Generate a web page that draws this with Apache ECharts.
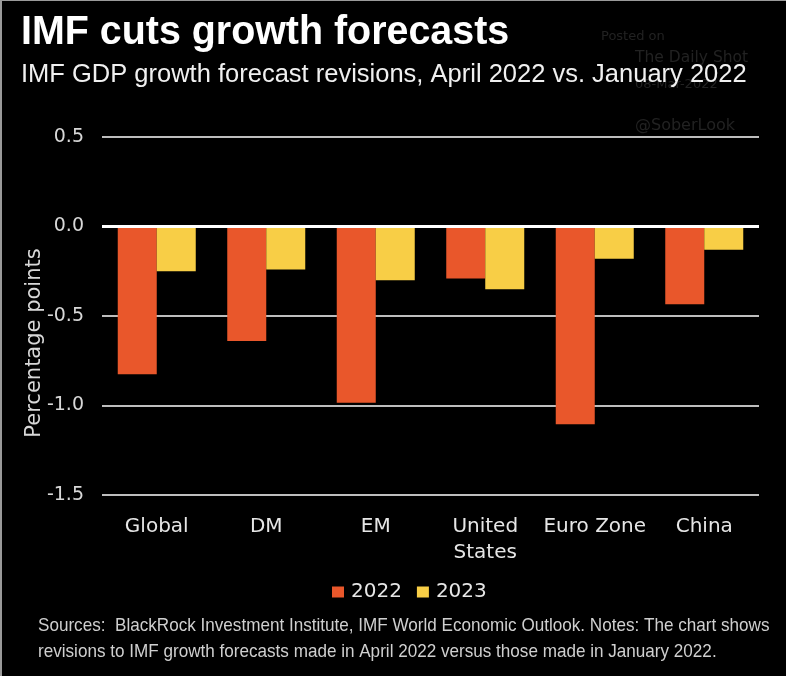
<!DOCTYPE html>
<html>
<head>
<meta charset="utf-8">
<script src="https://cdn.jsdelivr.net/npm/echarts@6/dist/echarts.min.js"></script>
<style>
html,body{margin:0;padding:0;background:#000;}
#c{width:786px;height:676px;}
</style>
</head>
<body>
<div id="c"></div>
<script>
const categories = ['Global', 'DM', 'EM', 'United\nStates', 'Euro Zone', 'China'];
const values2022 = [-0.825, -0.64, -0.985, -0.29, -1.105, -0.435];
const values2023 = [-0.25, -0.24, -0.30, -0.35, -0.18, -0.13];
const seriesNames = ['2022', '2023'];
const yTicks = { min: -1.5, max: 0.5, interval: 0.5 };

const chart = echarts.init(document.getElementById('c'), null, {renderer: 'canvas'});
const txt = (x, y, text, font, fill, align, extra) => Object.assign({
  type: 'text', x: x, y: y, silent: true,
  style: { text: text, font: font, fill: fill, align: align || 'left', verticalAlign: 'middle', textAlign: align || 'left', textVerticalAlign: 'middle' }
}, extra || {});

chart.setOption({
  backgroundColor: '#000',
  animation: false,
  grid: { left: 102, right: 27, top: 137, bottom: 181 },
  legend: {
    data: seriesNames,
    left: 327, top: 577,
    itemWidth: 12, itemHeight: 11, itemGap: 15,
    icon: 'rect',
    textStyle: { color: '#e6e6e6', fontSize: 20, fontFamily: 'DejaVu Sans', padding: [0, 0, 0, 2] }
  },
  xAxis: {
    type: 'category',
    data: categories,
    axisLine: { show: false, onZero: false },
    axisTick: { show: false },
    axisLabel: { interval: 0, color: '#e6e6e6', fontSize: 20, fontFamily: 'DejaVu Sans', margin: 19, lineHeight: 26, verticalAlign: 'top' }
  },
  yAxis: {
    type: 'value',
    min: yTicks.min, max: yTicks.max, interval: yTicks.interval,
    axisLine: { show: false },
    axisTick: { show: false },
    axisLabel: { color: '#d8d8d8', fontSize: 19, fontFamily: 'DejaVu Sans', margin: 18,
      formatter: v => v.toFixed(1) },
    splitLine: { lineStyle: { color: '#bdbdbd', width: 2 } }
  },
  series: [
    {
      name: seriesNames[0], type: 'bar', data: values2022,
      barWidth: 39, barGap: '0%',
      itemStyle: { color: '#E9572B' },
      markLine: { silent: true, symbol: 'none', label: { show: false },
        lineStyle: { color: '#ffffff', width: 3, type: 'solid' },
        data: [{ yAxis: 0 }] }
    },
    {
      name: seriesNames[1], type: 'bar', data: values2023,
      barWidth: 39,
      itemStyle: { color: '#F8CE46' }
    }
  ],
  graphic: [
    txt(601, 37, 'Posted on', '13px "DejaVu Sans", sans-serif', '#222222'),
    txt(635, 58, 'The Daily Shot', '15.5px "DejaVu Sans", sans-serif', '#222222'),
    txt(635, 85, '08-Mar-2022', '13px "DejaVu Sans", sans-serif', '#222222'),
    txt(635, 126, '@SoberLook', '16px "DejaVu Sans", sans-serif', '#222222'),
    txt(21, 33, 'IMF cuts growth forecasts', 'bold 40px "Liberation Sans", Arial, sans-serif', '#ffffff', 'left', { scaleX: 0.985 }),
    txt(21, 75, 'IMF GDP growth forecast revisions, April 2022 vs. January 2022', '25.5px "Liberation Sans", Arial, sans-serif', '#f0f0f0'),
    txt(35, 343, 'Percentage points', '21px "DejaVu Sans", sans-serif', '#d8d8d8', 'center', { rotation: Math.PI / 2 }),
    txt(38, 626, 'Sources:  BlackRock Investment Institute, IMF World Economic Outlook. Notes: The chart shows', '19px "Liberation Sans", Arial, sans-serif', '#cfcfcf', 'left', { scaleX: 0.9 }),
    txt(38, 652, 'revisions to IMF growth forecasts made in April 2022 versus those made in January 2022.', '19px "Liberation Sans", Arial, sans-serif', '#cfcfcf', 'left', { scaleX: 0.9 }),
    { type: 'rect', shape: { x: 0, y: 0, width: 2, height: 676 }, style: { fill: '#9a9a9a' }, silent: true },
    { type: 'rect', shape: { x: 0, y: 0, width: 786, height: 1 }, style: { fill: '#9a9a9a' }, silent: true }
  ]
});
</script>
</body>
</html>
